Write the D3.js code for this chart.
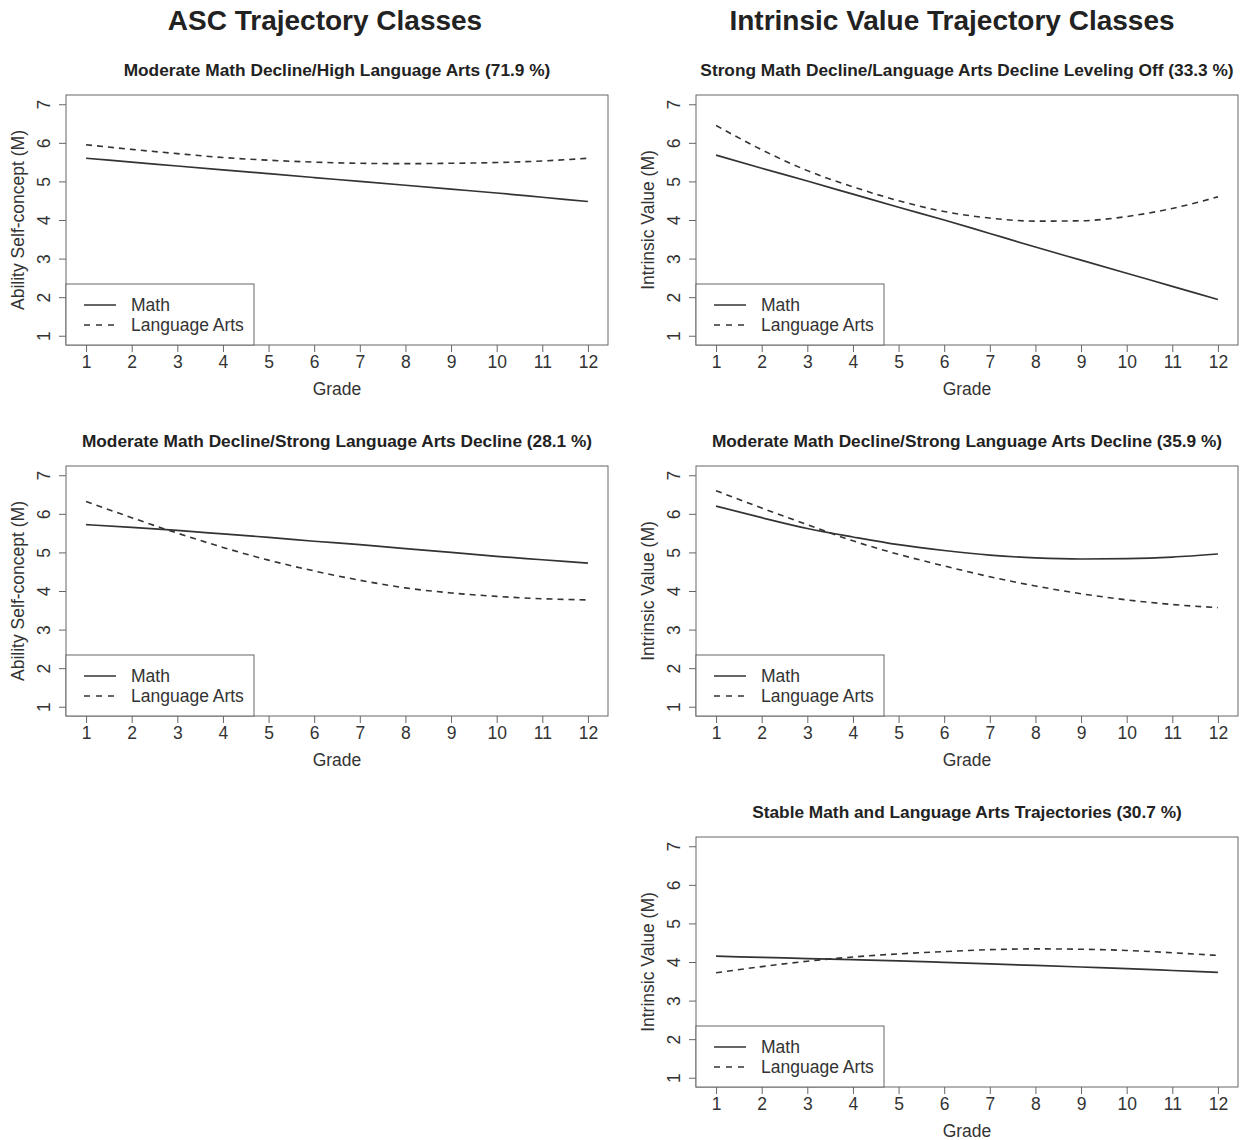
<!DOCTYPE html>
<html>
<head>
<meta charset="utf-8">
<script src="https://cdn.jsdelivr.net/npm/d3@7"></script>
<style>
  body { margin: 0; background: #fff; }
  svg text { font-family: "Liberation Sans", Arial, sans-serif; }
</style>
</head>
<body>
<svg id="chart" width="1242" height="1140"></svg>
<script>
const grades = [1, 2, 3, 4, 5, 6, 7, 8, 9, 10, 11, 12];
const yTicks = [1, 2, 3, 4, 5, 6, 7];

// ASC classes
const ascModHighMath = [5.60, 5.50, 5.40, 5.30, 5.20, 5.10, 5.00, 4.90, 4.80, 4.70, 4.59, 4.48];
const ascModHighLA   = [5.95, 5.83, 5.72, 5.62, 5.55, 5.50, 5.47, 5.46, 5.47, 5.49, 5.53, 5.60];
const ascModStrongMath = [5.72, 5.65, 5.57, 5.48, 5.39, 5.29, 5.20, 5.10, 5.00, 4.90, 4.81, 4.72];
const ascModStrongLA   = [6.32, 5.90, 5.50, 5.13, 4.80, 4.52, 4.28, 4.08, 3.95, 3.86, 3.80, 3.77];

// Intrinsic value classes
const ivStrongMath = [5.68, 5.34, 5.01, 4.67, 4.33, 4.00, 3.65, 3.30, 2.96, 2.62, 2.28, 1.94];
const ivStrongLA   = [6.45, 5.82, 5.28, 4.86, 4.50, 4.22, 4.05, 3.97, 3.98, 4.09, 4.30, 4.60];
const ivModMath = [6.20, 5.90, 5.62, 5.40, 5.20, 5.05, 4.93, 4.86, 4.83, 4.84, 4.88, 4.96];
const ivModLA   = [6.60, 6.15, 5.72, 5.30, 4.95, 4.65, 4.37, 4.13, 3.93, 3.77, 3.65, 3.57];
const ivStableMath = [4.15, 4.12, 4.09, 4.06, 4.03, 3.99, 3.95, 3.91, 3.87, 3.83, 3.78, 3.73];
const ivStableLA   = [3.72, 3.88, 4.02, 4.13, 4.21, 4.27, 4.32, 4.34, 4.33, 4.30, 4.24, 4.17];

const colTitles = ["ASC Trajectory Classes", "Intrinsic Value Trajectory Classes"];
const legendLabels = ["Math", "Language Arts"];

const panels = [
  {col: 0, row: 0, title: "Moderate Math Decline/High Language Arts (71.9 %)", ylab: "Ability Self-concept (M)", math: ascModHighMath, la: ascModHighLA},
  {col: 0, row: 1, title: "Moderate Math Decline/Strong Language Arts Decline (28.1 %)", ylab: "Ability Self-concept (M)", math: ascModStrongMath, la: ascModStrongLA},
  {col: 1, row: 0, title: "Strong Math Decline/Language Arts Decline Leveling Off (33.3 %)", ylab: "Intrinsic Value (M)", math: ivStrongMath, la: ivStrongLA},
  {col: 1, row: 1, title: "Moderate Math Decline/Strong Language Arts Decline (35.9 %)", ylab: "Intrinsic Value (M)", math: ivModMath, la: ivModLA},
  {col: 1, row: 2, title: "Stable Math and Language Arts Trajectories (30.7 %)", ylab: "Intrinsic Value (M)", math: ivStableMath, la: ivStableLA}
];

const svg = d3.select('#chart');
const BOX_W = 542, BOX_H = 250;
const colX = [66, 696], rowY = [95, 466, 837];
const titleX = [325, 952];
const lineColor = '#333', boxColor = '#666', textColor = '#222';
const FS = 17.5;

// column headings
svg.selectAll('text.col-title')
  .data(colTitles)
  .join('text')
  .attr('class', 'col-title')
  .attr('x', (d, i) => titleX[i])
  .attr('y', 30)
  .attr('text-anchor', 'middle')
  .attr('font-size', 28)
  .attr('font-weight', 'bold')
  .attr('fill', textColor)
  .text(d => d);

function drawPanel(p){
  const g = svg.append('g').attr('transform', `translate(${colX[p.col]},${rowY[p.row]})`);

  // R-style 4% padding on both axes
  const x = d3.scaleLinear().domain([1 - 0.44, 12 + 0.44]).range([0, BOX_W]);
  const y = d3.scaleLinear().domain([1 - 0.24, 7 + 0.24]).range([BOX_H, 0]);

  // title
  g.append('text')
    .attr('x', BOX_W / 2).attr('y', -19)
    .attr('text-anchor', 'middle')
    .attr('font-size', 17.3).attr('font-weight', 'bold')
    .attr('fill', textColor)
    .text(p.title);

  // x axis
  const xAxis = g.append('g')
    .attr('transform', `translate(0,${BOX_H})`)
    .call(d3.axisBottom(x).tickValues(grades).tickSize(7).tickPadding(4).tickFormat(d3.format('d')));
  xAxis.select('.domain').remove();
  xAxis.selectAll('line').attr('stroke', boxColor);
  xAxis.selectAll('text').attr('font-size', FS).attr('fill', '#333');

  // y axis (rotated tick labels, as in R)
  const yAxis = g.append('g')
    .call(d3.axisLeft(y).tickValues(yTicks).tickSize(7).tickFormat(d3.format('d')));
  yAxis.select('.domain').remove();
  yAxis.selectAll('line').attr('stroke', boxColor);
  yAxis.selectAll('text')
    .attr('x', null)
    .attr('text-anchor', 'middle')
    .attr('transform', 'translate(-22,0) rotate(-90)')
    .attr('dy', '0.35em')
    .attr('font-size', FS).attr('fill', '#333');

  // axis labels
  g.append('text')
    .attr('x', BOX_W / 2).attr('y', BOX_H + 50)
    .attr('text-anchor', 'middle')
    .attr('font-size', FS).attr('fill', '#333')
    .text('Grade');
  g.append('text')
    .attr('transform', `translate(-48,${BOX_H / 2}) rotate(-90)`)
    .attr('text-anchor', 'middle')
    .attr('dy', '0.35em')
    .attr('font-size', FS).attr('fill', '#333')
    .text(p.ylab);

  // lines
  const line = d3.line()
    .x((d, i) => x(grades[i]))
    .y(d => y(d))
    .curve(d3.curveMonotoneX);
  g.append('path').datum(p.math)
    .attr('d', line).attr('fill', 'none')
    .attr('stroke', lineColor).attr('stroke-width', 1.7);
  g.append('path').datum(p.la)
    .attr('d', line).attr('fill', 'none')
    .attr('stroke', lineColor).attr('stroke-width', 1.6)
    .attr('stroke-dasharray', '6,5');

  // plot box
  g.append('rect')
    .attr('x', 0).attr('y', 0).attr('width', BOX_W).attr('height', BOX_H)
    .attr('fill', 'none').attr('stroke', boxColor).attr('stroke-width', 1);

  // legend
  const LW = 188, LH = 61;
  const lg = g.append('g').attr('transform', `translate(0,${BOX_H - LH})`);
  lg.append('rect')
    .attr('width', LW).attr('height', LH)
    .attr('fill', '#fff').attr('stroke', boxColor).attr('stroke-width', 1);
  legendLabels.forEach((lab, i) => {
    const ly = 21 + i * 20;
    lg.append('line')
      .attr('x1', 18).attr('x2', 50).attr('y1', ly).attr('y2', ly)
      .attr('stroke', lineColor).attr('stroke-width', 1.5)
      .attr('stroke-dasharray', i === 1 ? '6,6' : null);
    lg.append('text')
      .attr('x', 65).attr('y', ly).attr('dy', '0.35em')
      .attr('font-size', FS).attr('fill', '#333')
      .text(lab);
  });
}

panels.forEach(drawPanel);
</script>
</body>
</html>
